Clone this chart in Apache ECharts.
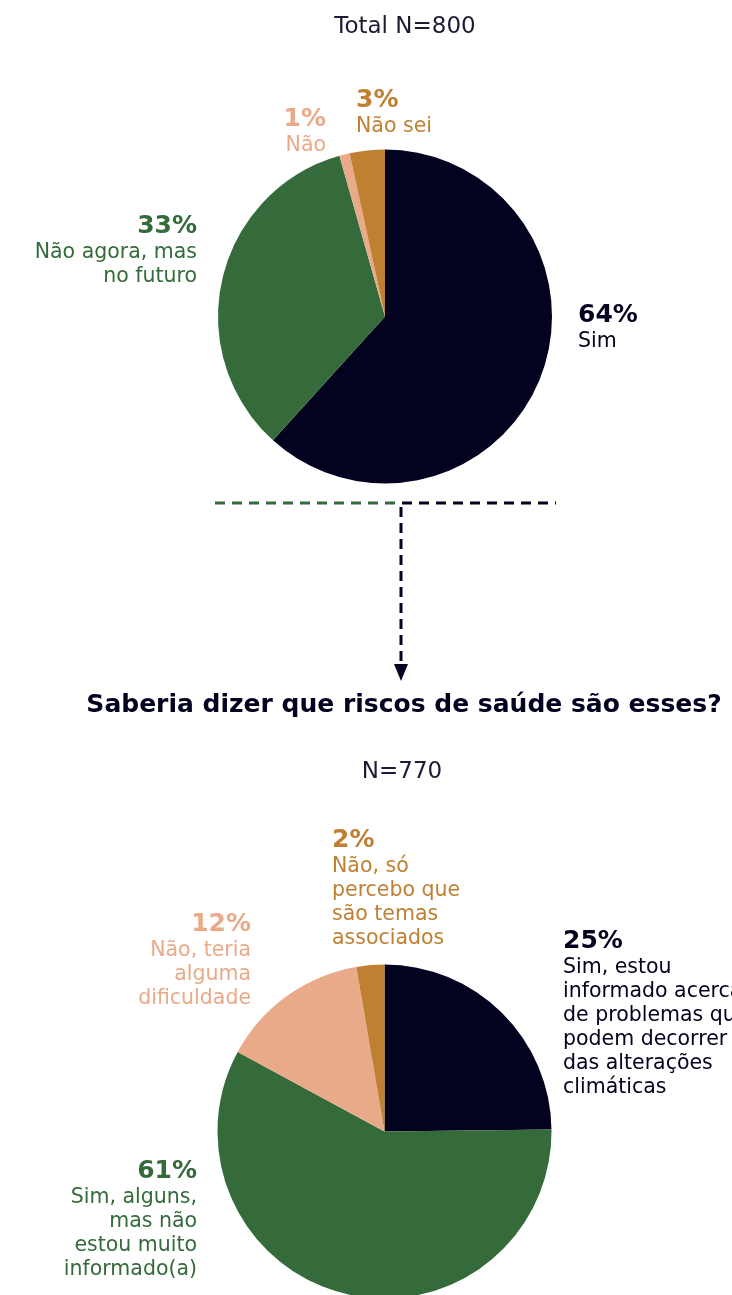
<!DOCTYPE html>
<html>
<head>
<meta charset="utf-8">
<script src="https://cdn.jsdelivr.net/npm/echarts@6/dist/echarts.min.js"></script>
<style>
html,body{margin:0;padding:0;background:#fff;}
#chart{width:732px;height:1295px;}
</style>
</head>
<body>
<div id="chart"></div>
<script>
// ---- Data ----
const topTitle = 'Total N=800';
const topCategories = ['Sim', 'Não agora, mas no futuro', 'Não', 'Não sei'];
const topSliceValues = [61.7, 33.9, 1.0, 3.4];
const topPercentLabels = ['64%', '33%', '1%', '3%'];
const topNameLines = [['Sim'], ['Não agora, mas', 'no futuro'], ['Não'], ['Não sei']];

const question = 'Saberia dizer que riscos de saúde são esses?';
const bottomTitle = 'N=770';
const bottomCategories = [
  'Sim, estou informado acerca de problemas que podem decorrer das alterações climáticas',
  'Sim, alguns, mas não estou muito informado(a)',
  'Não, teria alguma dificuldade',
  'Não, só percebo que são temas associados'
];
const bottomSliceValues = [24.8, 58.1, 14.4, 2.7];
const bottomPercentLabels = ['25%', '61%', '12%', '2%'];
const bottomNameLines = [
  ['Sim, estou', 'informado acerca', 'de problemas que', 'podem decorrer', 'das alterações', 'climáticas'],
  ['Sim, alguns,', 'mas não', 'estou muito', 'informado(a)'],
  ['Não, teria', 'alguma', 'dificuldade'],
  ['Não, só', 'percebo que', 'são temas', 'associados']
];

const colors = ['#03021f', '#356b3b', '#e9aa89', '#c08032'];

// ---- Layout (label anchors) ----
const labelPos = [
  [[578, 300, 'left'], [197, 211, 'right'], [326, 104, 'right'], [356, 85, 'left']],
  [[563, 926, 'left'], [197, 1156, 'right'], [251, 909, 'right'], [332, 825, 'left']]
];

const FONT = 'DejaVu Sans';

function buildData(cats, vals, pcts, names) {
  return cats.map((c, i) => ({
    name: c, value: vals[i], pct: pcts[i], lines: names[i],
    itemStyle: { color: colors[i] },
    label: { color: colors[i] }
  }));
}

function fmt(params) {
  const d = params.data;
  return '{p|' + d.pct + '}\n' + d.lines.map(l => '{t|' + l + '}').join('\n');
}

const rich = {
  p: { fontFamily: FONT, fontSize: 25, fontWeight: 'bold', lineHeight: 30 },
  t: { fontFamily: FONT, fontSize: 20.5, lineHeight: 24 }
};

function pieSeries(center, data) {
  return {
    type: 'pie',
    center: center,
    radius: 167,
    startAngle: 90,
    clockwise: true,
    avoidLabelOverlap: false,
    silent: true,
    label: { show: true, position: 'outside', formatter: fmt, rich: rich, fontFamily: FONT },
    labelLine: { show: false },
    emphasis: { disabled: true },
    itemStyle: { borderWidth: 0 },
    data: data,
    labelLayout: function (params) {
      const p = labelPos[params.seriesIndex][params.dataIndex];
      return { x: p[0], y: p[1], align: p[2], verticalAlign: 'top' };
    }
  };
}

const chart = echarts.init(document.getElementById('chart'));
chart.setOption({
  animation: false,
  backgroundColor: '#ffffff',
  title: [
    { text: topTitle, left: 400, top: 11, textAlign: 'center',
      textStyle: { fontFamily: FONT, fontSize: 23, fontWeight: 'normal', color: '#1c1b33' } },
    { text: question, left: 399, top: 688, textAlign: 'center',
      textStyle: { fontFamily: FONT, fontSize: 25, fontWeight: 'bold', color: '#03021f' } },
    { text: bottomTitle, left: 397, top: 756, textAlign: 'center',
      textStyle: { fontFamily: FONT, fontSize: 23, fontWeight: 'normal', color: '#1c1b33' } }
  ],
  graphic: [
    { type: 'line', shape: { x1: 215, y1: 503, x2: 400, y2: 503 },
      style: { stroke: '#356b3b', lineWidth: 3, lineDash: [10, 7] } },
    { type: 'line', shape: { x1: 402, y1: 503, x2: 556, y2: 503 },
      style: { stroke: '#03021f', lineWidth: 3, lineDash: [10, 7] } },
    { type: 'line', shape: { x1: 401, y1: 507, x2: 401, y2: 666 },
      style: { stroke: '#03021f', lineWidth: 3, lineDash: [10, 6] } },
    { type: 'polygon', shape: { points: [[394, 664], [408, 664], [401, 681]] },
      style: { fill: '#03021f' } }
  ],
  series: [
    pieSeries([385, 316.5], buildData(topCategories, topSliceValues, topPercentLabels, topNameLines)),
    pieSeries([384.5, 1131.5], buildData(bottomCategories, bottomSliceValues, bottomPercentLabels, bottomNameLines))
  ]
});
</script>
</body>
</html>
